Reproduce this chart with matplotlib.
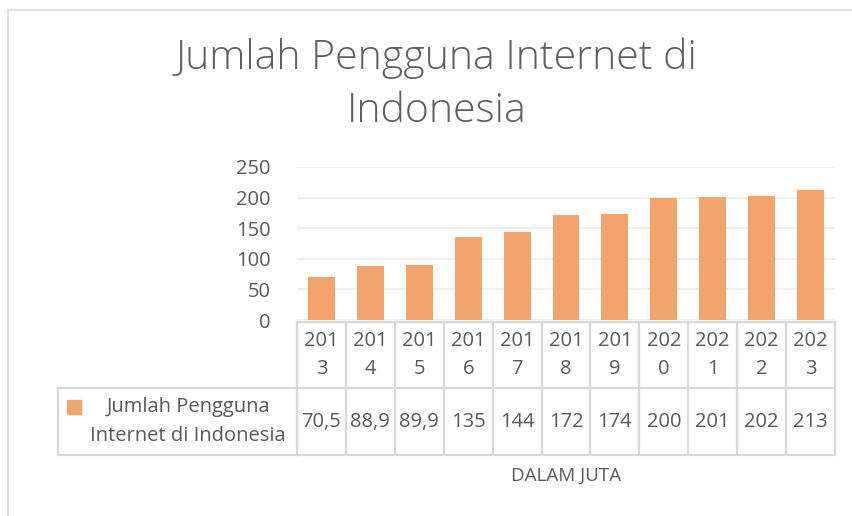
import numpy as np
import matplotlib.pyplot as plt
from matplotlib.transforms import blended_transform_factory
from matplotlib.patches import Rectangle

tahun = ['2013', '2014', '2015', '2016', '2017', '2018', '2019', '2020', '2021', '2022', '2023']
pengguna = [70.5, 88.9, 89.9, 135, 144, 172, 174, 200, 201, 202, 213]
label_nilai = ['70,5', '88,9', '89,9', '135', '144', '172', '174', '200', '201', '202', '213']
yticks = [0, 50, 100, 150, 200, 250]

judul = 'Jumlah Pengguna Internet di\nIndonesia'
nama_seri = 'Jumlah Pengguna\nInternet di Indonesia'
satuan = 'DALAM JUTA'

W, H = 852, 516
ORANYE = '#F2A46C'
TEKS = '#595959'
GARIS = '#d9d9d9'
FS = 14.5

plt.rcParams['font.family'] = ['Open Sans', 'DejaVu Sans']

fig = plt.figure(figsize=(W / 100, H / 100), dpi=100, facecolor='white')


def fy(py):
    # piksel dari atas -> fraksi figure
    return 1 - py / H


def fx(px):
    return px / W


# bingkai chart
fig.patches.append(Rectangle((fx(8), fy(H + 5)), fx(W + 10), fy(10) - fy(H + 5),
                             transform=fig.transFigure, fill=False,
                             edgecolor=GARIS, linewidth=1.2))

ax = fig.add_axes([fx(297), fy(320), fx(835) - fx(297), fy(167) - fy(320)])
x = np.arange(len(tahun))
ax.bar(x, pengguna, width=0.55, color=ORANYE, zorder=3)
ax.set_xlim(-0.5, len(tahun) - 0.5)
ax.set_ylim(0, 250)
ax.set_yticks(yticks)
ax.set_yticklabels([str(v) for v in yticks], fontsize=FS, color=TEKS)
ax.tick_params(axis='y', length=0, pad=19)
ax.set_xticks([])
ax.grid(axis='y', color='#ebebeb', linewidth=1.2, zorder=0)
for s in ax.spines.values():
    s.set_visible(False)

fig.text(fx(437), fy(85), judul, ha='center', va='center', fontsize=29.5,
         color='#5f5f5f', fontweight='light', linespacing=1.4)

# tabel data: x mengikuti skala sumbu, y dalam piksel
tr = blended_transform_factory(ax.transData, fig.transFigure)
y_atas, y_tengah, y_bawah = 322, 388, 455
kiri, kanan = -0.5, len(tahun) - 0.5
lw = 1.6

ax.plot([kiri, kanan], [fy(y_atas)] * 2, transform=tr, color=GARIS, lw=lw, clip_on=False)
ax.plot([kiri, kanan], [fy(y_bawah)] * 2, transform=tr, color=GARIS, lw=lw, clip_on=False)
for b in np.arange(kiri, kanan + 0.01, 1.0):
    ax.plot([b, b], [fy(y_atas), fy(y_bawah)], transform=tr, color=GARIS, lw=lw, clip_on=False)

fig.add_artist(plt.Line2D([fx(58), fx(835)], [fy(y_tengah)] * 2, color=GARIS, lw=lw))
fig.add_artist(plt.Line2D([fx(58), fx(297)], [fy(y_bawah)] * 2, color=GARIS, lw=lw))
fig.add_artist(plt.Line2D([fx(58), fx(58)], [fy(y_tengah), fy(y_bawah)], color=GARIS, lw=lw))

for i, (t, v) in enumerate(zip(tahun, label_nilai)):
    ax.text(i, fy(355), t[:3] + '\n' + t[3:], transform=tr, ha='center', va='center',
            fontsize=FS, color=TEKS, linespacing=1.6)
    ax.text(i, fy(422), v, transform=tr, ha='center', va='center',
            fontsize=FS, color=TEKS)

fig.patches.append(Rectangle((fx(67), fy(414)), fx(14), fy(400) - fy(414),
                             transform=fig.transFigure, color=ORANYE))
fig.text(fx(188), fy(421.5), nama_seri, ha='center', va='center', fontsize=FS,
         color=TEKS, linespacing=1.55)

fig.text(fx(566), fy(476), satuan, ha='center', va='center', fontsize=13.5, color=TEKS)

fig.savefig('out.png', dpi=100, facecolor='white')
